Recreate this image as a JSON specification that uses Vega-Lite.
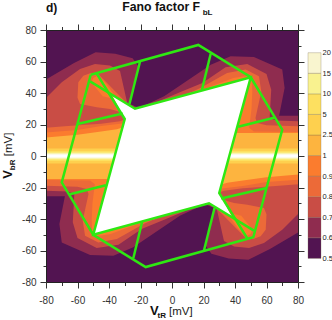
{"$schema":"https://vega.github.io/schema/vega-lite/v6.json","background":"white","padding":{"left":2,"top":0,"right":0,"bottom":0},"spacing":2,"config":{"view":{"stroke":null},"text":{"font":"Liberation Sans"}},
"datasets":{
"contours":[
{"level":"0.5","poly":"a","x":-80,"y":80},{"level":"0.5","poly":"a","x":80,"y":80},{"level":"0.5","poly":"a","x":80,"y":-80},{"level":"0.5","poly":"a","x":-80,"y":-80},
{"level":"0.6","poly":"b","x":-80,"y":48.5},{"level":"0.6","poly":"b","x":-62.2,"y":59},{"level":"0.6","poly":"b","x":-48.5,"y":65.9},{"level":"0.6","poly":"b","x":-36,"y":65},{"level":"0.6","poly":"b","x":-25,"y":62},{"level":"0.6","poly":"b","x":-21.5,"y":57},{"level":"0.6","poly":"b","x":-26.5,"y":33},{"level":"0.6","poly":"b","x":-22,"y":31},{"level":"0.6","poly":"b","x":-20,"y":31},{"level":"0.6","poly":"b","x":-5,"y":37.9},{"level":"0.6","poly":"b","x":24.6,"y":58},{"level":"0.6","poly":"b","x":37.2,"y":63.3},{"level":"0.6","poly":"b","x":52,"y":62.9},{"level":"0.6","poly":"b","x":70,"y":54.9},{"level":"0.6","poly":"b","x":71.5,"y":43.2},{"level":"0.6","poly":"b","x":68,"y":25.6},{"level":"0.6","poly":"b","x":80,"y":25.6},{"level":"0.6","poly":"b","x":80,"y":-48.5},{"level":"0.6","poly":"b","x":62.2,"y":-59},{"level":"0.6","poly":"b","x":48.5,"y":-65.9},{"level":"0.6","poly":"b","x":36,"y":-65},{"level":"0.6","poly":"b","x":25,"y":-62},{"level":"0.6","poly":"b","x":21.5,"y":-57},{"level":"0.6","poly":"b","x":26.5,"y":-33},{"level":"0.6","poly":"b","x":22,"y":-31},{"level":"0.6","poly":"b","x":20,"y":-31},{"level":"0.6","poly":"b","x":5,"y":-37.9},{"level":"0.6","poly":"b","x":-24.6,"y":-58},{"level":"0.6","poly":"b","x":-37.2,"y":-63.3},{"level":"0.6","poly":"b","x":-52,"y":-62.9},{"level":"0.6","poly":"b","x":-70,"y":-54.9},{"level":"0.6","poly":"b","x":-71.5,"y":-43.2},{"level":"0.6","poly":"b","x":-68,"y":-25.6},{"level":"0.6","poly":"b","x":-80,"y":-25.6},
{"level":"0.7","poly":"c","x":-80,"y":36.8},{"level":"0.7","poly":"c","x":-70,"y":46.8},{"level":"0.7","poly":"c","x":-58.4,"y":55.2},{"level":"0.7","poly":"c","x":-48.9,"y":58.4},{"level":"0.7","poly":"c","x":-39.4,"y":57.4},{"level":"0.7","poly":"c","x":-33,"y":54},{"level":"0.7","poly":"c","x":-28.5,"y":34},{"level":"0.7","poly":"c","x":-27,"y":31},{"level":"0.7","poly":"c","x":-23,"y":28},{"level":"0.7","poly":"c","x":-9,"y":33},{"level":"0.7","poly":"c","x":-8,"y":35},{"level":"0.7","poly":"c","x":5,"y":40.5},{"level":"0.7","poly":"c","x":19.3,"y":46.4},{"level":"0.7","poly":"c","x":34,"y":56.3},{"level":"0.7","poly":"c","x":47.8,"y":58.4},{"level":"0.7","poly":"c","x":60,"y":52},{"level":"0.7","poly":"c","x":63,"y":42},{"level":"0.7","poly":"c","x":62,"y":24},{"level":"0.7","poly":"c","x":66,"y":22.5},{"level":"0.7","poly":"c","x":80,"y":22},{"level":"0.7","poly":"c","x":80,"y":-36.8},{"level":"0.7","poly":"c","x":70,"y":-46.8},{"level":"0.7","poly":"c","x":58.4,"y":-55.2},{"level":"0.7","poly":"c","x":48.9,"y":-58.4},{"level":"0.7","poly":"c","x":39.4,"y":-57.4},{"level":"0.7","poly":"c","x":33,"y":-54},{"level":"0.7","poly":"c","x":28.5,"y":-34},{"level":"0.7","poly":"c","x":27,"y":-31},{"level":"0.7","poly":"c","x":23,"y":-28},{"level":"0.7","poly":"c","x":9,"y":-33},{"level":"0.7","poly":"c","x":8,"y":-35},{"level":"0.7","poly":"c","x":-5,"y":-40.5},{"level":"0.7","poly":"c","x":-19.3,"y":-46.4},{"level":"0.7","poly":"c","x":-34,"y":-56.3},{"level":"0.7","poly":"c","x":-47.8,"y":-58.4},{"level":"0.7","poly":"c","x":-60,"y":-52},{"level":"0.7","poly":"c","x":-63,"y":-42},{"level":"0.7","poly":"c","x":-62,"y":-24},{"level":"0.7","poly":"c","x":-66,"y":-22.5},{"level":"0.7","poly":"c","x":-80,"y":-22},
{"level":"0.8","poly":"d","x":-80,"y":18},{"level":"0.8","poly":"d","x":-66,"y":19},{"level":"0.8","poly":"d","x":-45,"y":20.5},{"level":"0.8","poly":"d","x":-33,"y":22},{"level":"0.8","poly":"d","x":-29,"y":23.5},{"level":"0.8","poly":"d","x":-28,"y":26},{"level":"0.8","poly":"d","x":-33,"y":28},{"level":"0.8","poly":"d","x":-39.4,"y":29.8},{"level":"0.8","poly":"d","x":-47.8,"y":30.9},{"level":"0.8","poly":"d","x":-58.4,"y":33},{"level":"0.8","poly":"d","x":-60,"y":37},{"level":"0.8","poly":"d","x":-59.5,"y":46.8},{"level":"0.8","poly":"d","x":-56.3,"y":51},{"level":"0.8","poly":"d","x":-52,"y":52.5},{"level":"0.8","poly":"d","x":-47.8,"y":53},{"level":"0.8","poly":"d","x":-30,"y":35},{"level":"0.8","poly":"d","x":-26.5,"y":30.5},{"level":"0.8","poly":"d","x":-23,"y":28},{"level":"0.8","poly":"d","x":0,"y":35},{"level":"0.8","poly":"d","x":18,"y":43.2},{"level":"0.8","poly":"d","x":35,"y":52.7},{"level":"0.8","poly":"d","x":46.8,"y":54.9},{"level":"0.8","poly":"d","x":55.2,"y":50.6},{"level":"0.8","poly":"d","x":56.7,"y":41},{"level":"0.8","poly":"d","x":53,"y":24.2},{"level":"0.8","poly":"d","x":54,"y":21},{"level":"0.8","poly":"d","x":60,"y":19.5},{"level":"0.8","poly":"d","x":80,"y":18.9},{"level":"0.8","poly":"d","x":80,"y":-18},{"level":"0.8","poly":"d","x":66,"y":-19},{"level":"0.8","poly":"d","x":45,"y":-20.5},{"level":"0.8","poly":"d","x":33,"y":-22},{"level":"0.8","poly":"d","x":29,"y":-23.5},{"level":"0.8","poly":"d","x":28,"y":-26},{"level":"0.8","poly":"d","x":33,"y":-28},{"level":"0.8","poly":"d","x":39.4,"y":-29.8},{"level":"0.8","poly":"d","x":47.8,"y":-30.9},{"level":"0.8","poly":"d","x":58.4,"y":-33},{"level":"0.8","poly":"d","x":60,"y":-37},{"level":"0.8","poly":"d","x":59.5,"y":-46.8},{"level":"0.8","poly":"d","x":56.3,"y":-51},{"level":"0.8","poly":"d","x":52,"y":-52.5},{"level":"0.8","poly":"d","x":47.8,"y":-53},{"level":"0.8","poly":"d","x":30,"y":-35},{"level":"0.8","poly":"d","x":26.5,"y":-30.5},{"level":"0.8","poly":"d","x":23,"y":-28},{"level":"0.8","poly":"d","x":0,"y":-35},{"level":"0.8","poly":"d","x":-18,"y":-43.2},{"level":"0.8","poly":"d","x":-35,"y":-52.7},{"level":"0.8","poly":"d","x":-46.8,"y":-54.9},{"level":"0.8","poly":"d","x":-55.2,"y":-50.6},{"level":"0.8","poly":"d","x":-56.7,"y":-41},{"level":"0.8","poly":"d","x":-53,"y":-24.2},{"level":"0.8","poly":"d","x":-54,"y":-21},{"level":"0.8","poly":"d","x":-60,"y":-19.5},{"level":"0.8","poly":"d","x":-80,"y":-18.9},
{"level":"0.9","poly":"e","x":-80,"y":15},{"level":"0.9","poly":"e","x":-60,"y":16.5},{"level":"0.9","poly":"e","x":-45,"y":19},{"level":"0.9","poly":"e","x":-33,"y":20.5},{"level":"0.9","poly":"e","x":-29,"y":21},{"level":"0.9","poly":"e","x":9,"y":38},{"level":"0.9","poly":"e","x":10,"y":39.8},{"level":"0.9","poly":"e","x":20,"y":42.5},{"level":"0.9","poly":"e","x":39,"y":49.5},{"level":"0.9","poly":"e","x":45,"y":50.5},{"level":"0.9","poly":"e","x":50.5,"y":50.5},{"level":"0.9","poly":"e","x":51,"y":41},{"level":"0.9","poly":"e","x":50.5,"y":30},{"level":"0.9","poly":"e","x":49,"y":18},{"level":"0.9","poly":"e","x":52,"y":15.5},{"level":"0.9","poly":"e","x":80,"y":15.3},{"level":"0.9","poly":"e","x":80,"y":-15},{"level":"0.9","poly":"e","x":60,"y":-16.5},{"level":"0.9","poly":"e","x":45,"y":-19},{"level":"0.9","poly":"e","x":33,"y":-20.5},{"level":"0.9","poly":"e","x":29,"y":-21},{"level":"0.9","poly":"e","x":-9,"y":-38},{"level":"0.9","poly":"e","x":-10,"y":-39.8},{"level":"0.9","poly":"e","x":-20,"y":-42.5},{"level":"0.9","poly":"e","x":-39,"y":-49.5},{"level":"0.9","poly":"e","x":-45,"y":-50.5},{"level":"0.9","poly":"e","x":-50.5,"y":-50.5},{"level":"0.9","poly":"e","x":-51,"y":-41},{"level":"0.9","poly":"e","x":-50.5,"y":-30},{"level":"0.9","poly":"e","x":-49,"y":-18},{"level":"0.9","poly":"e","x":-52,"y":-15.5},{"level":"0.9","poly":"e","x":-80,"y":-15.3},
{"level":"0.9","poly":"f","x":-36,"y":36},{"level":"0.9","poly":"f","x":-44,"y":38},{"level":"0.9","poly":"f","x":-51,"y":46.5},{"level":"0.9","poly":"f","x":-50,"y":49.5},{"level":"0.9","poly":"f","x":-47,"y":51},{"level":"0.9","poly":"f","x":-42,"y":46},{"level":"0.9","poly":"f","x":-36,"y":38},
{"level":"0.9","poly":"g","x":36,"y":-36},{"level":"0.9","poly":"g","x":44,"y":-38},{"level":"0.9","poly":"g","x":51,"y":-46.5},{"level":"0.9","poly":"g","x":50,"y":-49.5},{"level":"0.9","poly":"g","x":47,"y":-51},{"level":"0.9","poly":"g","x":42,"y":-46},{"level":"0.9","poly":"g","x":36,"y":-38},
{"level":"1","poly":"h","x":-80,"y":11.8},{"level":"1","poly":"h","x":-60,"y":13.5},{"level":"1","poly":"h","x":-45,"y":15.5},{"level":"1","poly":"h","x":-35,"y":17},{"level":"1","poly":"h","x":-30,"y":18.5},{"level":"1","poly":"h","x":38,"y":14.6},{"level":"1","poly":"h","x":80,"y":14.6},{"level":"1","poly":"h","x":80,"y":-11.8},{"level":"1","poly":"h","x":60,"y":-13.5},{"level":"1","poly":"h","x":45,"y":-15.5},{"level":"1","poly":"h","x":35,"y":-17},{"level":"1","poly":"h","x":30,"y":-18.5},{"level":"1","poly":"h","x":-38,"y":-14.6},{"level":"1","poly":"h","x":-80,"y":-14.6},
{"level":"2.5","poly":"i","x":-80,"y":4.8},{"level":"2.5","poly":"i","x":80,"y":4.8},{"level":"2.5","poly":"i","x":80,"y":-4.8},{"level":"2.5","poly":"i","x":-80,"y":-4.8},
{"level":"5","poly":"j","x":-80,"y":3.2},{"level":"5","poly":"j","x":80,"y":3.2},{"level":"5","poly":"j","x":80,"y":-3.2},{"level":"5","poly":"j","x":-80,"y":-3.2},
{"level":"10","poly":"k","x":-80,"y":2.2},{"level":"10","poly":"k","x":80,"y":2.2},{"level":"10","poly":"k","x":80,"y":-2.2},{"level":"10","poly":"k","x":-80,"y":-2.2},
{"level":"15","poly":"l","x":-80,"y":1.6},{"level":"15","poly":"l","x":80,"y":1.6},{"level":"15","poly":"l","x":80,"y":-1.6},{"level":"15","poly":"l","x":-80,"y":-1.6},
{"level":"20","poly":"m","x":-80,"y":1},{"level":"20","poly":"m","x":80,"y":1},{"level":"20","poly":"m","x":80,"y":-1},{"level":"20","poly":"m","x":-80,"y":-1},
{"level":"20","poly":"n","x":-38,"y":38.5},{"level":"20","poly":"n","x":-23.5,"y":30},{"level":"20","poly":"n","x":50,"y":50},{"level":"20","poly":"n","x":30,"y":-23.5},{"level":"20","poly":"n","x":38,"y":-38.5},{"level":"20","poly":"n","x":23.5,"y":-30},{"level":"20","poly":"n","x":-50,"y":-50},{"level":"20","poly":"n","x":-30,"y":23.5}
],
"lines":[
{"path":"oct","x":-51.6,"y":51.6},{"path":"oct","x":16.7,"y":70.5},{"path":"oct","x":50,"y":50},{"path":"oct","x":70,"y":16.7},{"path":"oct","x":51.6,"y":-51.6},{"path":"oct","x":-16.7,"y":-70.5},{"path":"oct","x":-50,"y":-50},{"path":"oct","x":-70,"y":-16.7},{"path":"oct","x":-51.6,"y":51.6},
{"path":"in1","x":-52,"y":47.4},{"path":"in1","x":-23.5,"y":30},{"path":"in1","x":50,"y":50},{"path":"in1","x":30,"y":-23.5},{"path":"in1","x":47.8,"y":-52.3},
{"path":"in2","x":52,"y":-47.4},{"path":"in2","x":23.5,"y":-30},{"path":"in2","x":-50,"y":-50},{"path":"in2","x":-30,"y":23.5},{"path":"in2","x":-47.8,"y":52.3},
{"path":"b1","x":-60,"y":20.3},{"path":"b1","x":-31.3,"y":27},
{"path":"b2","x":-20.3,"y":60},{"path":"b2","x":-27,"y":33},
{"path":"b3","x":24.6,"y":65.1},{"path":"b3","x":19,"y":41.9},
{"path":"b4","x":65.4,"y":24.5},{"path":"b4","x":42,"y":18.6},
{"path":"b5","x":60,"y":-20.3},{"path":"b5","x":31.3,"y":-27},
{"path":"b6","x":20.3,"y":-60},{"path":"b6","x":27,"y":-33},
{"path":"b7","x":-24.6,"y":-65.1},{"path":"b7","x":-19,"y":-41.9},
{"path":"b8","x":-65.4,"y":-24.5},{"path":"b8","x":-42,"y":-18.6}
],
"bar":[
{"level":"0.5","lo":0,"hi":1},{"level":"0.6","lo":1,"hi":2},{"level":"0.7","lo":2,"hi":3},{"level":"0.8","lo":3,"hi":4},{"level":"0.9","lo":4,"hi":5},{"level":"1","lo":5,"hi":6},{"level":"2.5","lo":6,"hi":7},{"level":"5","lo":7,"hi":8},{"level":"10","lo":8,"hi":9},{"level":"15","lo":9,"hi":10}
]
},
"hconcat":[
{"width":252,"height":252,"resolve":{"axis":{"x":"independent","y":"independent"}},
"layer":[
{"data":{"name":"contours"},"mark":{"type":"line","filled":true,"strokeWidth":0,"opacity":1,"fillOpacity":1},
"encoding":{"x":{"field":"x","type":"quantitative","scale":{"domain":[-80,80]},
"axis":{"orient":"bottom","title":null,"grid":false,"values":[-80,-70,-60,-50,-40,-30,-20,-10,0,10,20,30,40,50,60,70,80],"tickSize":{"condition":{"test":"datum.value % 20 === 0","value":6},"value":3.5},"labelExpr":"datum.value % 20 === 0 ? toString(datum.value) : ''","labelFont":"Liberation Sans","labelFontSize":10,"labelColor":"#333","labelPadding":7,"labelOverlap":false,"labelFlush":false,"domainColor":"#222","tickColor":"#333","zindex":1}},
"y":{"field":"y","type":"quantitative","scale":{"domain":[-80,80]},
"axis":{"orient":"left","title":null,"grid":false,"values":[-80,-70,-60,-50,-40,-30,-20,-10,0,10,20,30,40,50,60,70,80],"tickSize":{"condition":{"test":"datum.value % 20 === 0","value":6},"value":3},"labelExpr":"datum.value % 20 === 0 ? toString(datum.value) : ''","labelFont":"Liberation Sans","labelFontSize":10,"labelColor":"#333","labelPadding":4,"labelOverlap":false,"labelFlush":false,"domainColor":"#222","tickColor":"#333","zindex":1}},
"color":{"field":"level","type":"nominal","legend":null,"scale":{"domain":["0.5","0.6","0.7","0.8","0.9","1","2.5","5","10","15","20"],"range":["#521451","#8f2c4f","#c94d45","#ec6a38","#fb7c2e","#fdb43f","#fed04e","#fde060","#f9f28f","#f9f5cf","#ffffff"]}},
"detail":{"field":"poly"},"order":{"value":null}}},
{"data":{"name":"lines"},"mark":{"type":"line","stroke":"#2ee812","opacity":1,"strokeWidth":2.5,"strokeJoin":"miter"},
"encoding":{"x":{"field":"x","type":"quantitative","scale":{"domain":[-80,80]},"axis":null},"y":{"field":"y","type":"quantitative","scale":{"domain":[-80,80]},"axis":null},"detail":{"field":"path"},"order":{"value":null}}},
{"data":{"values":[{}]},"mark":{"type":"text","text":"d)","font":"Liberation Sans","fontWeight":"bold","fontSize":12,"align":"left","baseline":"alphabetic","color":"#111"},
"encoding":{"x":{"datum":-80,"type":"quantitative","scale":{"domain":[-80,80]},
"axis":{"orient":"top","title":null,"grid":false,"values":[-80,-70,-60,-50,-40,-30,-20,-10,0,10,20,30,40,50,60,70,80],"tickSize":{"condition":{"test":"datum.value % 20 === 0","value":6},"value":3.5},"labels":false,"domainColor":"#222","tickColor":"#333","zindex":1}},
"y":{"datum":91.6,"type":"quantitative","scale":{"domain":[-80,80]},
"axis":{"orient":"right","title":null,"grid":false,"values":[-80,-70,-60,-50,-40,-30,-20,-10,0,10,20,30,40,50,60,70,80],"tickSize":{"condition":{"test":"datum.value % 20 === 0","value":6},"value":3},"labels":false,"domainColor":"#222","tickColor":"#333","zindex":1}}}},
{"data":{"values":[{}]},"mark":{"type":"text","text":"Fano factor F","font":"Liberation Sans","fontWeight":"bold","fontSize":12.3,"align":"left","baseline":"alphabetic","color":"#111"},
"encoding":{"x":{"datum":-31.6,"type":"quantitative","scale":{"domain":[-80,80]},"axis":null},"y":{"datum":92.3,"type":"quantitative","scale":{"domain":[-80,80]},"axis":null}}},
{"data":{"values":[{}]},"mark":{"type":"text","text":"bL","font":"Liberation Sans","fontWeight":"bold","fontSize":8,"align":"left","baseline":"alphabetic","color":"#111"},
"encoding":{"x":{"datum":19.5,"type":"quantitative","scale":{"domain":[-80,80]},"axis":null},"y":{"datum":89.7,"type":"quantitative","scale":{"domain":[-80,80]},"axis":null}}},
{"data":{"values":[{}]},"mark":{"type":"text","text":"V","font":"Liberation Sans","fontWeight":"bold","fontSize":13,"align":"left","baseline":"alphabetic","color":"#111"},
"encoding":{"x":{"datum":-14,"type":"quantitative","scale":{"domain":[-80,80]},"axis":null},"y":{"datum":-100.8,"type":"quantitative","scale":{"domain":[-80,80]},"axis":null}}},
{"data":{"values":[{}]},"mark":{"type":"text","text":"tR","font":"Liberation Sans","fontWeight":"bold","fontSize":8,"align":"left","baseline":"alphabetic","color":"#111"},
"encoding":{"x":{"datum":-9.2,"type":"quantitative","scale":{"domain":[-80,80]},"axis":null},"y":{"datum":-102.7,"type":"quantitative","scale":{"domain":[-80,80]},"axis":null}}},
{"data":{"values":[{}]},"mark":{"type":"text","text":"[mV]","font":"Liberation Sans","fontSize":11.5,"align":"left","baseline":"alphabetic","color":"#222"},
"encoding":{"x":{"datum":-1.9,"type":"quantitative","scale":{"domain":[-80,80]},"axis":null},"y":{"datum":-100.8,"type":"quantitative","scale":{"domain":[-80,80]},"axis":null}}},
{"data":{"values":[{}]},"mark":{"type":"text","text":"V","angle":270,"font":"Liberation Sans","fontWeight":"bold","fontSize":13,"align":"left","baseline":"alphabetic","color":"#111"},
"encoding":{"x":{"datum":-101.3,"type":"quantitative","scale":{"domain":[-80,80]},"axis":null},"y":{"datum":-14.4,"type":"quantitative","scale":{"domain":[-80,80]},"axis":null}}},
{"data":{"values":[{}]},"mark":{"type":"text","text":"bR","angle":270,"font":"Liberation Sans","fontWeight":"bold","fontSize":8,"align":"left","baseline":"alphabetic","color":"#111"},
"encoding":{"x":{"datum":-99.7,"type":"quantitative","scale":{"domain":[-80,80]},"axis":null},"y":{"datum":-9,"type":"quantitative","scale":{"domain":[-80,80]},"axis":null}}},
{"data":{"values":[{}]},"mark":{"type":"text","text":"[mV]","angle":270,"font":"Liberation Sans","fontSize":11.5,"align":"left","baseline":"alphabetic","color":"#222"},
"encoding":{"x":{"datum":-101.3,"type":"quantitative","scale":{"domain":[-80,80]},"axis":null},"y":{"datum":-0.1,"type":"quantitative","scale":{"domain":[-80,80]},"axis":null}}}
]},
{"width":13,"height":252,"data":{"name":"bar"},"mark":{"type":"rect","stroke":"#7a6a50","strokeWidth":0.5,"strokeOpacity":0.6},
"encoding":{"y":{"field":"lo","type":"quantitative","scale":{"domain":[-1.147,11.104],"nice":false,"zero":false},
"axis":{"orient":"right","title":null,"grid":false,"domain":false,"ticks":false,"values":[0,1,2,3,4,5,6,7,8,9,10],"labelExpr":"['0.5','0.6','0.7','0.8','0.9','1','2.5','5','10','15','20'][datum.value]","labelFont":"Liberation Sans","labelFontSize":7.5,"labelColor":"#222","labelPadding":1,"labelOverlap":false,"labelFlush":false}},
"y2":{"field":"hi"},"x":{"datum":0,"type":"quantitative","scale":{"domain":[0,1],"nice":false},"axis":null},"x2":{"datum":1},
"color":{"field":"level","type":"nominal","legend":null,"scale":{"domain":["0.5","0.6","0.7","0.8","0.9","1","2.5","5","10","15","20"],"range":["#521451","#8f2c4f","#c94d45","#ec6a38","#fb7c2e","#fdb43f","#fed04e","#fde060","#f9f28f","#f9f5cf","#ffffff"]}}}}
]}
